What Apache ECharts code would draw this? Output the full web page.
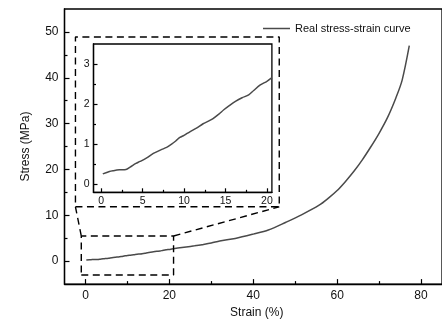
<!DOCTYPE html>
<html>
<head>
<meta charset="utf-8">
<script src="https://cdn.jsdelivr.net/npm/echarts@6/dist/echarts.min.js"></script>
<style>
html,body{margin:0;padding:0;background:#fff;}
#chart{width:442px;height:324px;}
</style>
</head>
<body>
<div id="chart"></div>
<script>
// ---- data (strain %, stress MPa) ----
const strain = [0.2, 1.0, 1.5, 2.2, 3.0, 3.5, 4.2, 4.7, 5.5, 6.3, 7.2, 7.9, 8.5, 9.0, 9.5, 10.0, 10.7, 11.5, 12.3, 13.0, 13.5, 14.2, 14.8, 15.5, 16.2, 17.0, 17.8, 18.4, 19.2, 20.0, 20.6,
  22, 24, 26, 27.8, 30, 32, 35.7, 40, 43.6, 47.8, 51.5, 55.7, 58, 60, 62, 64, 66, 68, 70, 72, 74, 75.5, 77.2];
const stress = [0.26, 0.32, 0.34, 0.36, 0.37, 0.43, 0.52, 0.57, 0.66, 0.77, 0.86, 0.92, 1.0, 1.08, 1.17, 1.22, 1.31, 1.40, 1.51, 1.58, 1.64, 1.75, 1.86, 1.97, 2.07, 2.16, 2.23, 2.34, 2.48, 2.57, 2.66,
  2.85, 3.1, 3.35, 3.6, 3.95, 4.4, 4.95, 5.9, 6.8, 8.5, 10.1, 12.2, 13.8, 15.4, 17.4, 19.6, 22.1, 24.9, 27.9, 31.3, 35.6, 39.5, 47.0];
const seriesName = 'Real stress-strain curve';

// ticks
const mainXTicks = [0, 20, 40, 60, 80];
const mainXMinor = [10, 30, 50, 70];
const mainYTicks = [0, 10, 20, 30, 40, 50];
const mainYMinor = [5, 15, 25, 35, 45];
const insetXTicks = [0, 5, 10, 15, 20];
const insetXMinor = [2.5, 7.5, 12.5, 17.5];
const insetYTicks = [0, 1, 2, 3];
const insetYMinor = [0.5, 1.5, 2.5];

// zoom annotation (data coords of main axes)
const zoomBox = [-1, 21, -3, 5.5];             // xmin, xmax, ymin, ymax
const insetFrame = [-2.39, 46.2, 11.86, 48.9]; // xmin, xmax, ymin, ymax

const pts = strain.map((s, i) => [s, stress[i]]);
const insetPts = pts.filter(p => p[0] <= 21);

function rect(b) {
  return [[b[0], b[2]], [b[1], b[2]], [b[1], b[3]], [b[0], b[3]], [b[0], b[2]]];
}

const FONT = 'Liberation Sans, Arial, sans-serif';
const TXT = '#111';
const AX = {show: true, onZero: false, lineStyle: {color: '#000', width: 1.3}};

function axisPair(gridIndex, position, min, max, major, minor, labelSize, labelMargin, majLen, minLen, extra) {
  const a = Object.assign({
    type: 'value', gridIndex, position, min, max,
    axisLine: AX,
    axisTick: {show: true, inside: true, length: majLen, customValues: major, lineStyle: {color: '#000', width: 1.2}},
    axisLabel: {customValues: major, fontSize: labelSize, fontFamily: FONT, color: TXT, margin: labelMargin},
    splitLine: {show: false}
  }, extra || {});
  const b = {
    type: 'value', gridIndex, position, min, max,
    axisLine: {show: false, onZero: false},
    axisTick: {show: true, inside: true, length: minLen, customValues: minor, lineStyle: {color: '#000', width: 1.2}},
    axisLabel: {show: false},
    splitLine: {show: false}
  };
  return [a, b];
}

const mx = axisPair(0, 'bottom', -5, 85, mainXTicks, mainXMinor, 12, 6, 5, 3,
  {name: 'Strain (%)', nameLocation: 'middle', nameGap: 22, nameTextStyle: {fontSize: 12, fontFamily: FONT, color: TXT, padding: [0, 0, 0, 7]}});
const my = axisPair(0, 'left', -5, 55, mainYTicks, mainYMinor, 12, 6, 5, 3,
  {name: 'Stress (MPa)', nameLocation: 'middle', nameGap: 33, nameTextStyle: {fontSize: 12, fontFamily: FONT, color: TXT}});
const ix = axisPair(1, 'bottom', -0.92, 20.6, insetXTicks, insetXMinor, 10.5, 3, 4, 2.5);
const iy = axisPair(1, 'left', -0.2, 3.5, insetYTicks, insetYMinor, 10.5, 4, 4, 2.5);

const dashStyle = {color: '#000', width: 1.4, type: [7, 4.5]};
const curveColor = '#4a4a4a';

const option = {
  animation: false,
  backgroundColor: '#fff',
  legend: {
    data: [{name: seriesName, icon: 'rect'}], left: 258, top: 18, itemWidth: 27, itemHeight: 1.5, itemGap: 4,
    textStyle: {fontSize: 11, fontFamily: FONT, color: TXT}
  },
  grid: [
    {left: 64.5, top: 9, width: 380.3, height: 277.4, show: true, borderColor: '#000', borderWidth: 1.3, backgroundColor: 'transparent'},
    {left: 93.5, top: 44, width: 178.4, height: 148.3, show: true, borderColor: '#000', borderWidth: 1.3, backgroundColor: '#fff'}
  ],
  xAxis: [mx[0], mx[1], ix[0], ix[1]],
  yAxis: [my[0], my[1], iy[0], iy[1]],
  series: [
    {name: seriesName, type: 'line', xAxisIndex: 0, yAxisIndex: 0, data: pts, symbol: 'none', smooth: 0.3,
      lineStyle: {color: curveColor, width: 1.5}, itemStyle: {color: curveColor}},
    {name: 'zoomBox', type: 'line', xAxisIndex: 0, yAxisIndex: 0, data: rect(zoomBox), symbol: 'none', lineStyle: dashStyle, silent: true},
    {name: 'insetFrame', type: 'line', xAxisIndex: 0, yAxisIndex: 0, data: rect(insetFrame), symbol: 'none', lineStyle: dashStyle, silent: true},
    {name: 'connL', type: 'line', xAxisIndex: 0, yAxisIndex: 0, data: [[zoomBox[0], zoomBox[3]], [insetFrame[0], insetFrame[2]]], symbol: 'none', lineStyle: dashStyle, silent: true},
    {name: 'connR', type: 'line', xAxisIndex: 0, yAxisIndex: 0, data: [[zoomBox[1], zoomBox[3]], [insetFrame[1], insetFrame[2]]], symbol: 'none', lineStyle: dashStyle, silent: true},
    {name: 'inset', type: 'line', xAxisIndex: 2, yAxisIndex: 2, data: insetPts, symbol: 'none', smooth: 0.3,
      lineStyle: {color: curveColor, width: 1.5}}
  ]
};

const chart = echarts.init(document.getElementById('chart'), null, {renderer: 'canvas'});
chart.setOption(option);
</script>
</body>
</html>
